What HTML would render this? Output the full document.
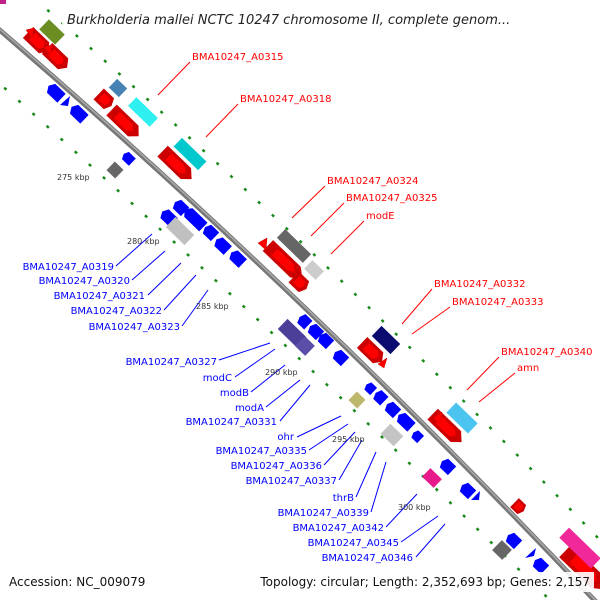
<!DOCTYPE html>
<html><head><meta charset="utf-8"><style>
html,body{margin:0;padding:0;background:#fff;}
svg{display:block;}
.lr{font-family:"DejaVu Sans","Liberation Sans",sans-serif;font-size:10px;fill:#f00;}
.lb{font-family:"DejaVu Sans","Liberation Sans",sans-serif;font-size:10px;fill:#00f;text-anchor:end;}
.k{font-family:"DejaVu Sans","Liberation Sans",sans-serif;font-size:8px;fill:#333;}
</style></head><body>
<svg width="600" height="600" viewBox="0 0 600 600" xmlns="http://www.w3.org/2000/svg">
<defs>
<polygon id="f" points="-1,-1 0.6,-1 1,0 0.6,1 -1,1"/>
</defs>
<!-- dotted tracks -->
<g fill="none" stroke="#1a8a1a" stroke-width="2.5" stroke-dasharray="3 16">
<path d="M-10,-40 Q292,220 600,540"/>
<path d="M-10,75 Q292,345 560,610"/>
</g>
<!-- backbone -->
<path d="M-5,26 Q302,290 598,604" fill="none" stroke="#777" stroke-width="5"/>
<path d="M-5,25 Q302,289 598,603" fill="none" stroke="#aaa" stroke-width="1.5"/>
<rect x="0" y="0" width="6" height="4" fill="#c0208a"/>

<!-- red forward arrows -->
<g fill="#f00" stroke="#c00" stroke-width="0.5">
<g transform="translate(38,42) rotate(44) scale(11,6)"><use href="#f"/></g>
<g transform="translate(57,58) rotate(44) scale(11,6)"><use href="#f"/></g>
<g transform="translate(105,100) rotate(44) scale(7,6)"><use href="#f"/></g>
<g transform="translate(125,123) rotate(44) scale(15,6)"><use href="#f"/></g>
<g transform="translate(177,165) rotate(44) scale(16,6)"><use href="#f"/></g>
<g transform="translate(285,262) rotate(44) scale(19,6)"><use href="#f"/></g>
<g transform="translate(300,283) rotate(44) scale(7,6)"><use href="#f"/></g>
<g transform="translate(372,352) rotate(44) scale(11,6)"><use href="#f"/></g>
<g transform="translate(447,428) rotate(44) scale(16,6)"><use href="#f"/></g>
<g transform="translate(519,507) rotate(44) scale(5,5)"><use href="#f"/></g>
<g transform="translate(585,570) rotate(44) scale(22,7)"><use href="#f"/></g>
<polygon points="26,30 34,28 32,38"/>
<polygon points="44,47 52,45 50,55"/>
<polygon points="258,243 267,238 266,250"/>
<polygon points="378,364 387,358 384,368"/>
<polygon points="433,418 442,412 440,423"/>
</g>
<!-- second row boxes -->
<g transform="translate(52,32) rotate(44)"><rect x="-11" y="-7" width="22" height="14" fill="#6b8e23"/></g>
<g transform="translate(118,88) rotate(44)"><rect x="-7" y="-6" width="14" height="12" fill="#4682b4"/></g>
<g transform="translate(143,112) rotate(44)"><rect x="-15" y="-6" width="30" height="12" fill="#2ef0f0"/></g>
<g transform="translate(190,154) rotate(44)"><rect x="-17" y="-6" width="34" height="12" fill="#00c8cc"/></g>
<g transform="translate(294,246) rotate(44)"><rect x="-18" y="-6" width="36" height="12" fill="#666"/></g>
<g transform="translate(314,270) rotate(44)"><rect x="-8" y="-6" width="16" height="12" fill="#ccc"/></g>
<g transform="translate(386,340) rotate(44)"><rect x="-13" y="-7" width="26" height="14" fill="#0b0b70"/></g>
<g transform="translate(462,418) rotate(44)"><rect x="-15" y="-7" width="30" height="14" fill="#4cc4f0"/></g>
<g transform="translate(580,548) rotate(44)"><rect x="-22" y="-7" width="44" height="14" fill="#f0289a"/></g>

<!-- blue reverse arrows -->
<g fill="#00f">
<g transform="translate(55,92) rotate(224) scale(9,6)"><use href="#f"/></g>
<g transform="translate(78,113) rotate(224) scale(9,6)"><use href="#f"/></g>
<g transform="translate(128,158) rotate(224) scale(6,5)"><use href="#f"/></g>
<g transform="translate(180,207) rotate(224) scale(7,6)"><use href="#f"/></g>
<g transform="translate(194,218) rotate(224) scale(13,6)"><use href="#f"/></g>
<g transform="translate(210,232) rotate(224) scale(7,6)"><use href="#f"/></g>
<g transform="translate(222,245) rotate(224) scale(8,6)"><use href="#f"/></g>
<g transform="translate(237,258) rotate(224) scale(8,6)"><use href="#f"/></g>
<g transform="translate(168,217) rotate(224) scale(8,6)"><use href="#f"/></g>
<g transform="translate(304,321) rotate(224) scale(6,6)"><use href="#f"/></g>
<g transform="translate(315,331) rotate(224) scale(7,6)"><use href="#f"/></g>
<g transform="translate(325,340) rotate(224) scale(7,6)"><use href="#f"/></g>
<g transform="translate(340,357) rotate(224) scale(7,6)"><use href="#f"/></g>
<g transform="translate(370,388) rotate(224) scale(5,5)"><use href="#f"/></g>
<g transform="translate(380,397) rotate(224) scale(6,6)"><use href="#f"/></g>
<g transform="translate(392,409) rotate(224) scale(7,6)"><use href="#f"/></g>
<g transform="translate(405,421) rotate(224) scale(9,6)"><use href="#f"/></g>
<g transform="translate(417,436) rotate(224) scale(5,5)"><use href="#f"/></g>
<g transform="translate(447,466) rotate(224) scale(7,6)"><use href="#f"/></g>
<g transform="translate(467,490) rotate(224) scale(7,6)"><use href="#f"/></g>
<g transform="translate(513,540) rotate(224) scale(7,6)"><use href="#f"/></g>
<g transform="translate(540,565) rotate(224) scale(7,6)"><use href="#f"/></g>
<polygon points="60,105 70,96 68,106"/>
<polygon points="471,500 480,491 479,500"/>
<polygon points="525,558 536,548 534,556"/>
</g>
<!-- third row -->
<g transform="translate(115,170) rotate(44)"><rect x="-6" y="-6" width="12" height="12" fill="#666"/></g>
<g transform="translate(180,231) rotate(44)"><rect x="-13" y="-7" width="26" height="14" fill="#c0c0c0"/></g>
<g transform="translate(292,333) rotate(44)"><rect x="-13" y="-7" width="26" height="14" fill="#4b3f9a"/></g>
<g transform="translate(305,346) rotate(44)"><rect x="-7" y="-7" width="14" height="14" fill="#5a4fa8"/></g>
<g transform="translate(357,400) rotate(44)"><rect x="-6" y="-6" width="12" height="12" fill="#bdb76b"/></g>
<g transform="translate(392,435) rotate(44)"><rect x="-9" y="-7" width="18" height="14" fill="#c4c4c4"/></g>
<g transform="translate(432,478) rotate(44)"><rect x="-8" y="-6" width="16" height="12" fill="#e8198b"/></g>
<g transform="translate(502,550) rotate(44)"><rect x="-7" y="-7" width="14" height="14" fill="#666"/></g>

<!-- red labels -->
<g stroke="#f00" stroke-width="1">
<line x1="190" y1="62" x2="158" y2="95"/><line x1="238" y1="104" x2="206" y2="137"/>
<line x1="325" y1="186" x2="292" y2="218"/><line x1="344" y1="203" x2="311" y2="236"/>
<line x1="364" y1="221" x2="331" y2="254"/><line x1="432" y1="289" x2="402" y2="324"/>
<line x1="450" y1="307" x2="412" y2="334"/><line x1="499" y1="357" x2="467" y2="390"/>
<line x1="515" y1="373" x2="479" y2="402"/>
</g>
<text class="lr" x="192" y="60">BMA10247_A0315</text>
<text class="lr" x="240" y="102">BMA10247_A0318</text>
<text class="lr" x="327" y="184">BMA10247_A0324</text>
<text class="lr" x="346" y="201">BMA10247_A0325</text>
<text class="lr" x="366" y="219">modE</text>
<text class="lr" x="434" y="287">BMA10247_A0332</text>
<text class="lr" x="452" y="305">BMA10247_A0333</text>
<text class="lr" x="501" y="355">BMA10247_A0340</text>
<text class="lr" x="517" y="371">amn</text>

<!-- blue labels -->
<g stroke="#00f" stroke-width="1">
<line x1="116" y1="266" x2="152" y2="234"/><line x1="132" y1="280" x2="165" y2="251"/>
<line x1="148" y1="295" x2="181" y2="263"/><line x1="164" y1="310" x2="196" y2="275"/>
<line x1="182" y1="326" x2="208" y2="290"/><line x1="219" y1="360" x2="270" y2="343"/>
<line x1="235" y1="377" x2="275" y2="349"/><line x1="251" y1="392" x2="285" y2="365"/>
<line x1="266" y1="407" x2="300" y2="380"/><line x1="280" y1="421" x2="310" y2="385"/>
<line x1="297" y1="437" x2="341" y2="416"/><line x1="309" y1="450" x2="348" y2="424"/>
<line x1="324" y1="465" x2="355" y2="432"/><line x1="339" y1="480" x2="362" y2="440"/>
<line x1="356" y1="497" x2="376" y2="452"/><line x1="371" y1="512" x2="386" y2="462"/>
<line x1="386" y1="527" x2="417" y2="494"/><line x1="401" y1="542" x2="438" y2="516"/>
<line x1="416" y1="557" x2="445" y2="524"/>
</g>
<text class="lb" x="114" y="270">BMA10247_A0319</text>
<text class="lb" x="130" y="284">BMA10247_A0320</text>
<text class="lb" x="145" y="299">BMA10247_A0321</text>
<text class="lb" x="162" y="314">BMA10247_A0322</text>
<text class="lb" x="180" y="330">BMA10247_A0323</text>
<text class="lb" x="217" y="365">BMA10247_A0327</text>
<text class="lb" x="232" y="381">modC</text>
<text class="lb" x="249" y="396">modB</text>
<text class="lb" x="264" y="411">modA</text>
<text class="lb" x="277" y="425">BMA10247_A0331</text>
<text class="lb" x="294" y="440">ohr</text>
<text class="lb" x="307" y="454">BMA10247_A0335</text>
<text class="lb" x="322" y="469">BMA10247_A0336</text>
<text class="lb" x="337" y="484">BMA10247_A0337</text>
<text class="lb" x="354" y="501">thrB</text>
<text class="lb" x="369" y="516">BMA10247_A0339</text>
<text class="lb" x="384" y="531">BMA10247_A0342</text>
<text class="lb" x="399" y="546">BMA10247_A0345</text>
<text class="lb" x="413" y="561">BMA10247_A0346</text>

<!-- kbp labels -->
<text class="k" x="57" y="180">275 kbp</text>
<text class="k" x="127" y="244">280 kbp</text>
<text class="k" x="196" y="309">285 kbp</text>
<text class="k" x="265" y="375">290 kbp</text>
<text class="k" x="332" y="442">295 kbp</text>
<text class="k" x="398" y="510">300 kbp</text>
<text class="k" x="463" y="579" fill="#bbb" style="fill:#bbb">305 kbp</text>

<!-- title & footer -->
<rect x="62" y="8" width="474" height="20" fill="#fff" opacity="0.9"/>
<text x="67" y="24" font-family="DejaVu Sans, Liberation Sans, sans-serif" font-size="13" font-style="italic" fill="#222">Burkholderia mallei NCTC 10247 chromosome II, complete genom...</text>
<rect x="4" y="572" width="146" height="20" fill="#fff"/>
<text x="9" y="586" font-family="DejaVu Sans, Liberation Sans, sans-serif" font-size="12" fill="#111">Accession: NC_009079</text>
<rect x="256" y="572" width="338" height="20" fill="#fff" opacity="0.9"/>
<text x="590" y="586" text-anchor="end" font-family="DejaVu Sans, Liberation Sans, sans-serif" font-size="12" fill="#111">Topology: circular; Length: 2,352,693 bp; Genes: 2,157</text>
</svg>
</body></html>
